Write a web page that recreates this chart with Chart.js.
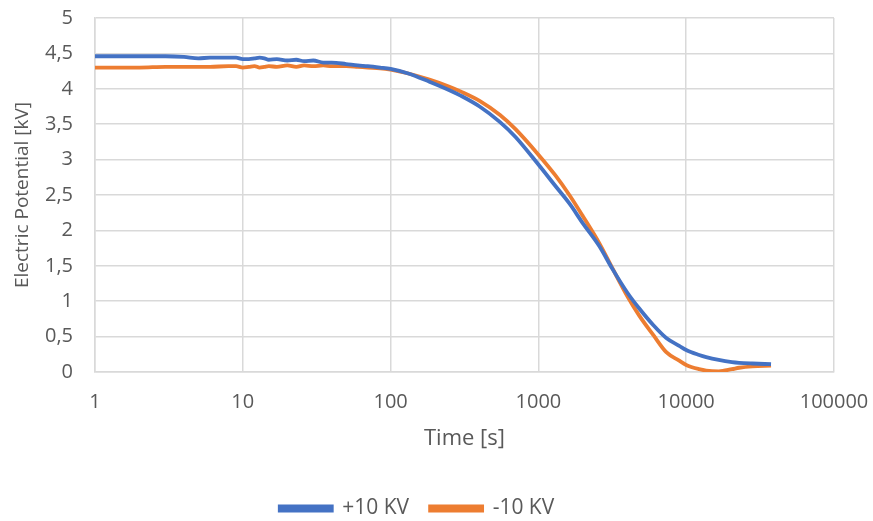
<!DOCTYPE html>
<html>
<head>
<meta charset="utf-8">
<script src="https://cdn.jsdelivr.net/npm/chart.js@4"></script>
<style>
  html, body { margin: 0; padding: 0; background: #fff; }
  #wrap { width: 873px; height: 521px; }
</style>
</head>
<body>
<div id="wrap"><canvas id="myChart"></canvas></div>
<script>
// 時間軸 (s)
const times = [1, 2, 3, 4, 5, 6, 8, 9, 10, 11, 12, 13, 14, 15, 17, 20, 23, 26, 30, 35, 40, 50, 60, 70, 85,
  100, 130, 183, 250, 300, 400, 550, 700, 1000, 1300, 1620, 2000, 2580, 3160, 4000, 4800, 6000, 7330, 8970,
  10000, 12240, 13650, 16600, 20400, 22800, 28000, 37500];

// +10 KV
const plusKV = [4.46, 4.46, 4.46, 4.45, 4.43, 4.44, 4.44, 4.44, 4.42, 4.42, 4.43, 4.44, 4.43, 4.41, 4.42, 4.40, 4.41, 4.39, 4.40, 4.37, 4.37, 4.35, 4.33, 4.32, 4.30,
  4.28, 4.22, 4.10, 3.98, 3.90, 3.75, 3.53, 3.32, 2.93, 2.63, 2.38, 2.10, 1.78, 1.46, 1.12, 0.90, 0.66, 0.48, 0.37,
  0.31, 0.24, 0.21, 0.17, 0.14, 0.13, 0.12, 0.11];

// -10 KV
const minusKV = [4.30, 4.30, 4.31, 4.31, 4.31, 4.31, 4.32, 4.32, 4.30, 4.31, 4.32, 4.30, 4.31, 4.32, 4.31, 4.33, 4.31, 4.33, 4.32, 4.33, 4.32, 4.32, 4.31, 4.30, 4.29,
  4.27, 4.22, 4.13, 4.03, 3.96, 3.83, 3.63, 3.43, 3.07, 2.78, 2.50, 2.20, 1.82, 1.47, 1.07, 0.80, 0.52, 0.28, 0.16,
  0.10, 0.04, 0.02, 0.01, 0.04, 0.06, 0.08, 0.09];

const xTicks = [1, 10, 100, 1000, 10000, 100000];

const textColor = '#595959';
const gridColor = '#d9d9d9';
const fontFamily = '"Open Sans", sans-serif';

function toPoints(vals) {
    return times.map((t, i) => ({ x: t, y: vals[i] }));
}

new Chart(document.getElementById('myChart'), {
    type: 'line',
    data: {
        datasets: [
            {
                label: '+10 KV',
                data: toPoints(plusKV),
                borderColor: '#4472c4',
                backgroundColor: '#4472c4',
                borderWidth: 3.8,
                pointRadius: 0,
                cubicInterpolationMode: 'monotone'
            },
            {
                label: '-10 KV',
                data: toPoints(minusKV),
                borderColor: '#ed7d31',
                backgroundColor: '#ed7d31',
                borderWidth: 3.8,
                pointRadius: 0,
                cubicInterpolationMode: 'monotone'
            }
        ]
    },
    options: {
        responsive: true,
        maintainAspectRatio: false,
        animation: false,
        layout: { padding: { top: 18, right: 39, left: 0, bottom: -8 } },
        plugins: {
            legend: {
                position: 'bottom',
                labels: {
                    color: textColor,
                    font: { family: fontFamily, size: 21 },
                    boxWidth: 52,
                    boxHeight: 4,
                    padding: 21
                }
            },
            tooltip: { enabled: false }
        },
        scales: {
            x: {
                type: 'logarithmic',
                min: 1,
                max: 100000,
                afterBuildTicks: (scale) => {
                    scale.ticks = xTicks.map(v => ({ value: v }));
                },
                afterFit: (scale) => { scale.height = 105; },
                ticks: {
                    color: textColor,
                    font: { family: fontFamily, size: 20 },
                    padding: 0,
                    maxRotation: 0,
                    callback: (v) => String(v)
                },
                grid: { color: gridColor, lineWidth: 1.5, tickLength: 18, tickColor: 'transparent' },
                border: { color: gridColor, width: 1.5 },
                title: {
                    display: true,
                    text: 'Time [s]',
                    color: textColor,
                    font: { family: fontFamily, size: 22 },
                    padding: { top: 4, bottom: 25 }
                }
            },
            y: {
                min: 0,
                max: 5,
                afterFit: (scale) => { scale.width = 95; },
                ticks: {
                    stepSize: 0.5,
                    color: textColor,
                    font: { family: fontFamily, size: 20 },
                    padding: 0,
                    callback: (v) => String(v).replace('.', ',')
                },
                grid: { color: gridColor, lineWidth: 1.5, tickLength: 22, tickColor: 'transparent' },
                border: { color: gridColor, width: 1.5 },
                title: {
                    display: true,
                    text: 'Electric Potential [kV]',
                    color: textColor,
                    font: { family: fontFamily, size: 19 },
                    padding: { top: 11, bottom: 4 }
                }
            }
        }
    }
});
</script>
</body>
</html>
